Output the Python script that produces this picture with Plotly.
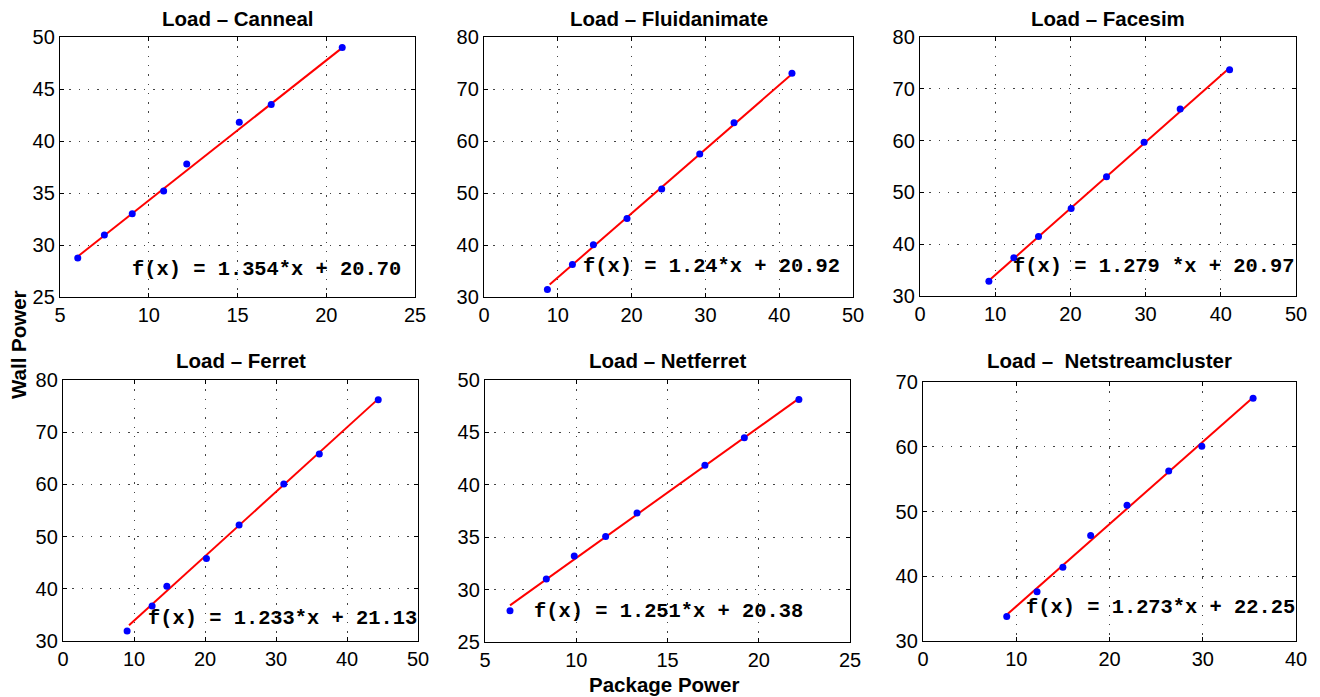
import plotly.graph_objects as go

W, H = 1320, 697

titles = ["Load \u2013 Canneal", "Load \u2013 Fluidanimate", "Load \u2013 Facesim",
          "Load \u2013 Ferret", "Load \u2013 Netferret", "Load \u2013  Netstreamcluster"]

pkg_canneal = [6.0, 7.5, 9.07, 10.84, 12.14, 15.1, 16.9, 20.9]
wall_canneal = [28.75, 30.96, 33.0, 35.2, 37.8, 41.8, 43.5, 49.0]
pkg_fluid = [8.59, 11.98, 14.82, 19.38, 24.08, 29.23, 33.88, 41.73]
wall_fluid = [31.46, 36.26, 40.04, 45.09, 50.79, 57.5, 63.5, 73.05]
pkg_facesim = [9.16, 12.48, 15.76, 20.1, 24.8, 29.8, 34.6, 41.17]
wall_facesim = [32.84, 37.4, 41.47, 46.9, 53.0, 59.66, 66.1, 73.7]
pkg_ferret = [9.03, 12.55, 14.63, 20.2, 24.8, 31.1, 36.1, 44.4]
wall_ferret = [31.9, 36.7, 40.5, 45.8, 52.2, 60.1, 65.8, 76.2]
pkg_netferret = [6.37, 8.36, 9.89, 11.61, 13.33, 17.05, 19.21, 22.2]
wall_netferret = [27.98, 31.0, 33.2, 35.07, 37.3, 41.87, 44.5, 48.13]
pkg_netstream = [8.98, 12.23, 15.0, 17.98, 21.88, 26.35, 29.9, 35.4]
wall_netstream = [33.8, 37.6, 41.4, 46.3, 50.96, 56.25, 60.07, 67.48]

# fitted line end points
fit_x = [[6.0, 21.0], [8.9, 41.5], [9.4, 41.0], [9.3, 44.1], [6.37, 22.1], [9.1, 35.3]]
fit_y = [[28.9, 49.1], [32.4, 72.6], [33.3, 73.8], [33.0, 76.0], [28.5, 48.1], [34.2, 67.5]]

equations = ["f(x) = 1.354*x + 20.70", "f(x) = 1.24*x + 20.92", "f(x) = 1.279 *x + 20.97",
             "f(x) = 1.233*x + 21.13", "f(x) = 1.251*x + 20.38", "f(x) = 1.273*x + 22.25"]
eq_pos = [(8.94, 27.66), (13.2, 35.87), (12.08, 35.67), (11.66, 34.4), (7.56, 27.92), (10.8, 35.25)]

x_ranges = [[5, 25], [0, 50], [0, 50], [0, 50], [5, 25], [0, 40]]
y_ranges = [[25, 50], [30, 80], [30, 80], [30, 80], [25, 50], [30, 70]]
x_dticks = [5, 10, 10, 10, 5, 10]
y_dticks = [5, 10, 10, 10, 5, 10]

# axes boxes in pixels (left, right, top, bottom)
boxes = [(60, 415, 37, 297), (484, 853, 37, 297), (920, 1296, 37, 296),
         (63, 418, 380, 641), (485, 850, 380, 642), (923, 1296, 382, 641)]

xs = [pkg_canneal, pkg_fluid, pkg_facesim, pkg_ferret, pkg_netferret, pkg_netstream]
ys = [wall_canneal, wall_fluid, wall_facesim, wall_ferret, wall_netferret, wall_netstream]

fig = go.Figure()
annotations = []
sans = "Liberation Sans, Arial, Helvetica, sans-serif"
tick_font = dict(family=sans, size=20, color="black")

for i in range(6):
    n = "" if i == 0 else str(i + 1)
    xa, ya = "x" + n, "y" + n
    fig.add_trace(go.Scatter(x=fit_x[i], y=fit_y[i], mode="lines",
                             line=dict(color="#ff0000", width=2),
                             xaxis=xa, yaxis=ya, showlegend=False, hoverinfo="skip"))
    fig.add_trace(go.Scatter(x=xs[i], y=ys[i], mode="markers",
                             marker=dict(color="#0000ff", size=7, line=dict(width=0)),
                             xaxis=xa, yaxis=ya, showlegend=False))
    l, r, t, b = boxes[i]
    common = dict(showline=True, linecolor="black", linewidth=1.3, mirror="ticks",
                  ticks="inside", ticklen=4, tickcolor="black", tickwidth=1,
                  showgrid=True, gridcolor="#444444", gridwidth=1.2, griddash="1.5px,7.8px",
                  zeroline=False, tickfont=tick_font, fixedrange=True, automargin=False)
    fig.layout["xaxis" + n] = dict(domain=[l / W, r / W], range=x_ranges[i], dtick=x_dticks[i],
                                   tick0=0, anchor=ya, **common)
    fig.layout["yaxis" + n] = dict(domain=[1 - b / H, 1 - t / H], range=y_ranges[i], dtick=y_dticks[i],
                                   tick0=0, anchor=xa, **common)
    annotations.append(dict(text="<b>" + titles[i] + "</b>", x=(l + r) / 2 / W, y=1 - (19 if i < 3 else 360) / H,
                            xref="paper", yref="paper", showarrow=False, xanchor="center", yanchor="middle",
                            font=dict(family=sans, size=20.5, color="black")))
    annotations.append(dict(text="<b>" + equations[i] + "</b>", x=eq_pos[i][0], y=eq_pos[i][1],
                            xref=xa, yref=ya, showarrow=False, xanchor="left", yanchor="middle",
                            font=dict(family="Liberation Mono, Courier New, monospace", size=20.4, color="black")))

annotations.append(dict(text="<b>Wall Power</b>", x=18 / W, y=1 - 345 / H, xref="paper", yref="paper",
                        showarrow=False, textangle=-90, xanchor="center", yanchor="middle",
                        font=dict(family=sans, size=20.5, color="black")))
annotations.append(dict(text="<b>Package Power</b>", x=664 / W, y=1 - 684 / H, xref="paper", yref="paper",
                        showarrow=False, xanchor="center", yanchor="middle",
                        font=dict(family=sans, size=20.5, color="black")))

fig.update_layout(template="none", width=W, height=H, margin=dict(l=0, r=0, t=0, b=0, pad=0),
                  paper_bgcolor="white", plot_bgcolor="white",
                  annotations=annotations, showlegend=False)

fig.write_html("out.html", config={"displayModeBar": False},
               post_script="document.body.style.margin='0';document.body.style.padding='0';"
                           "document.body.style.overflow='hidden';"
                           "document.documentElement.style.overflow='hidden';")
